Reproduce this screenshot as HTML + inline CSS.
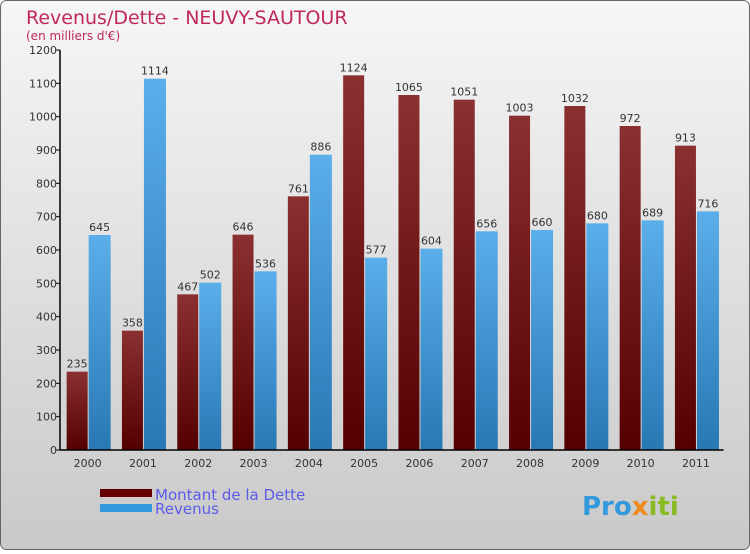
<!DOCTYPE html>
<html><head><meta charset="utf-8"><style>
body{margin:0;width:750px;height:550px;overflow:hidden;font-family:"DejaVu Sans","Liberation Sans",sans-serif}
</style></head><body>
<svg width="750" height="550" xmlns="http://www.w3.org/2000/svg">
<defs>
<linearGradient id="bg" x1="0" y1="0" x2="0" y2="1"><stop offset="0" stop-color="#f6f6f6"/><stop offset="1" stop-color="#c9c9c9"/></linearGradient>
<linearGradient id="gd" x1="0" y1="0" x2="0" y2="1"><stop offset="0" stop-color="#8a3030"/><stop offset="1" stop-color="#550000"/></linearGradient>
<linearGradient id="gr" x1="0" y1="0" x2="0" y2="1"><stop offset="0" stop-color="#5aaeea"/><stop offset="1" stop-color="#2878b4"/></linearGradient>
</defs>
<rect x="0.5" y="0.5" width="749" height="549" rx="6" fill="url(#bg)" stroke="#666"/>
<text x="26" y="24" font-size="19" fill="#c0285a">Revenus/Dette - NEUVY-SAUTOUR</text>
<text x="26" y="40" font-size="12" fill="#c0285a">(en milliers d'€)</text>
<g id="plot"></g>
<rect x="100" y="489" width="52" height="8" fill="#660000"/>
<text x="155" y="500" font-size="15" fill="#5b5bea">Montant de la Dette</text>
<rect x="100" y="504" width="52" height="8" fill="#3399dd"/>
<text x="155" y="514" font-size="15" fill="#5b5bea">Revenus</text>
<text x="582" y="515" font-size="26" font-weight="bold" fill="#3399dd">Pro<tspan fill="#f08a1c">x</tspan><tspan fill="#88bb22">iti</tspan></text>
</svg>
<script>
const categories=["2000","2001","2002","2003","2004","2005","2006","2007","2008","2009","2010","2011"];
const dette=[235,358,467,646,761,1124,1065,1051,1003,1032,972,913];
const revenus=[645,1114,502,536,886,577,604,656,660,680,689,716];
const yTicks=[0,100,200,300,400,500,600,700,800,900,1000,1100,1200];
const NS="http://www.w3.org/2000/svg";
const g=document.getElementById('plot');
const x0=60,bw=55.3,yb=450,yt=50,ymax=1200;
const y=v=>yb-(v/ymax)*(yb-yt);
function mk(t,a,txt){const e=document.createElementNS(NS,t);for(const k in a)e.setAttribute(k,a[k]);if(txt!==undefined)e.textContent=txt;g.appendChild(e);return e;}
categories.forEach((c,i)=>{
 const cx=x0+bw*(i+0.5);
 const b1=mk('rect',{x:cx-21,y:y(dette[i]),width:21,height:yb-y(dette[i]),fill:'url(#gd)'});
 
 
 const b2=mk('rect',{x:cx+1,y:y(revenus[i]),width:22,height:yb-y(revenus[i]),fill:'url(#gr)'});
 
 
 const l1=mk('text',{x:cx-10.5,y:y(dette[i])-4,'font-size':11,fill:'#333','text-anchor':'middle'},dette[i]);
 
 
 const l2=mk('text',{x:cx+12,y:y(revenus[i])-4,'font-size':11,fill:'#333','text-anchor':'middle'},revenus[i]);
 
 
 const xl=mk('text',{x:cx,y:yb+17,'font-size':11,fill:'#333','text-anchor':'middle'},c);
 
 
});
yTicks.forEach(v=>{
 const tk=mk('line',{x1:x0-4,x2:x0,y1:y(v),y2:y(v),stroke:'#000'});
 
 
 const t=mk('text',{x:x0-3,y:y(v)+4,'font-size':11,fill:'#333','text-anchor':'end'},v);
 
 
});
const ya=mk('line',{x1:x0,x2:x0,y1:yt,y2:yb,stroke:'#000','stroke-width':1.5});


const xa=mk('line',{x1:x0,x2:x0+bw*12,y1:yb,y2:yb,stroke:'#000','stroke-width':1.5});


</script>
</body></html>
